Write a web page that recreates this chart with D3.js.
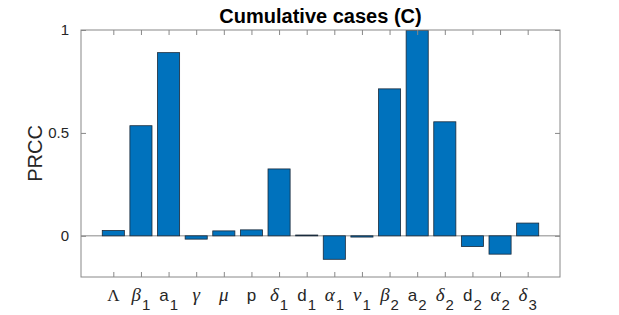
<!DOCTYPE html>
<html>
<head>
<meta charset="utf-8">
<script src="https://cdn.jsdelivr.net/npm/d3@7"></script>
<style>
  body { margin: 0; background: #fff; }
  text { font-family: "Liberation Sans", Helvetica, Arial, sans-serif; }
</style>
</head>
<body>
<svg id="chart" width="619" height="315"></svg>
<script>
// parameter names: [symbol, subscript, is greek]
var params = [
  ["Λ", "", false], ["β", "1", true], ["a", "1", false], ["γ", "", true],
  ["μ", "", true], ["p", "", false], ["δ", "1", true], ["d", "1", false],
  ["α", "1", true], ["ν", "1", true], ["β", "2", true], ["a", "2", false],
  ["δ", "2", true], ["d", "2", false], ["α", "2", true], ["δ", "3", true]
];
var prcc = [0.026, 0.535, 0.890, -0.016, 0.024, 0.029, 0.325, 0.004,
            -0.114, -0.006, 0.714, 0.998, 0.554, -0.052, -0.089, 0.062];
var yTicks = [0, 0.5, 1];

var svg = d3.select("#chart");
var margin = {top: 30, right: 59, bottom: 38, left: 81},
    width = 619 - margin.left - margin.right,
    height = 315 - margin.top - margin.bottom;

var g = svg.append("g")
    .attr("transform", "translate(" + margin.left + "," + margin.top + ")");

// bar positions 1..16
var x = d3.scaleLinear().domain([-0.17, 17.17]).range([0, width]);
var y = d3.scaleLinear().domain([-0.2, 1]).range([height, 0]);
var barW = (x(1) - x(0)) * 0.8;

// baseline at 0
g.append("line")
    .attr("x1", 0).attr("x2", width)
    .attr("y1", y(0)).attr("y2", y(0))
    .attr("stroke", "#8a8a8a").attr("stroke-width", 1);

// bars
g.selectAll(".bar")
    .data(prcc)
    .enter().append("rect")
    .attr("class", "bar")
    .attr("x", function(d, i) { return x(i + 1) - barW / 2; })
    .attr("width", barW)
    .attr("y", function(d) { return y(Math.max(0, d)); })
    .attr("height", function(d) { return Math.abs(y(d) - y(0)); })
    .attr("fill", "#0072BD")
    .attr("stroke", "#1a2a3a")
    .attr("stroke-width", 0.8);

// box with mirrored ticks
var tickIdx = d3.range(1, params.length + 1);
var axColor = "#888";
function styleAxis(sel) {
  sel.select(".domain").remove();
  sel.selectAll(".tick line").attr("stroke", axColor);
  sel.selectAll(".tick text").remove();
}
g.append("g").attr("transform", "translate(0," + height + ")")
    .call(d3.axisTop(x).tickValues(tickIdx).tickSize(5)).call(styleAxis);
g.append("g")
    .call(d3.axisBottom(x).tickValues(tickIdx).tickSize(5)).call(styleAxis);
g.append("g")
    .call(d3.axisRight(y).tickValues(yTicks).tickSize(5)).call(styleAxis);
g.append("g").attr("transform", "translate(" + width + ",0)")
    .call(d3.axisLeft(y).tickValues(yTicks).tickSize(5)).call(styleAxis);

g.append("rect")
    .attr("width", width).attr("height", height)
    .attr("fill", "none").attr("stroke", axColor).attr("stroke-width", 1);

// y tick labels
g.selectAll(".ylab")
    .data(yTicks)
    .enter().append("text")
    .attr("x", -12)
    .attr("y", function(d) { return y(d); })
    .attr("dy", "0.35em")
    .attr("text-anchor", "end")
    .attr("font-size", 15)
    .attr("fill", "#262626")
    .text(function(d) { return d; });

// x tick labels
var xl = g.selectAll(".xlab")
    .data(params)
    .enter().append("text")
    .attr("class", "xlab")
    .attr("x", function(d, i) { return x(i + 1); })
    .attr("y", height + 24)
    .attr("text-anchor", "middle")
    .attr("fill", "#262626");
xl.append("tspan")
    .attr("font-size", function(d) { return d[2] ? 19 : 17; })
    .attr("font-style", function(d) { return d[2] ? "italic" : "normal"; })
    .attr("font-family", function(d) { return (d[2] || d[0] === "Λ") ? "'Liberation Serif', 'DejaVu Serif', serif" : null; })
    .text(function(d) { return d[0]; });
xl.append("tspan")
    .attr("font-size", 15)
    .attr("dy", 9)
    .attr("dx", 1)
    .text(function(d) { return d[1]; });

// y label
svg.append("text")
    .attr("transform", "translate(42," + (margin.top + height / 2) + ") rotate(-90)")
    .attr("text-anchor", "middle")
    .attr("font-size", 20)
    .attr("fill", "#262626")
    .text("PRCC");

// title
svg.append("text")
    .attr("x", margin.left + width / 2)
    .attr("y", 23)
    .attr("text-anchor", "middle")
    .attr("font-size", 20)
    .attr("font-weight", "bold")
    .attr("fill", "#000")
    .text("Cumulative cases (C)");
</script>
</body>
</html>
